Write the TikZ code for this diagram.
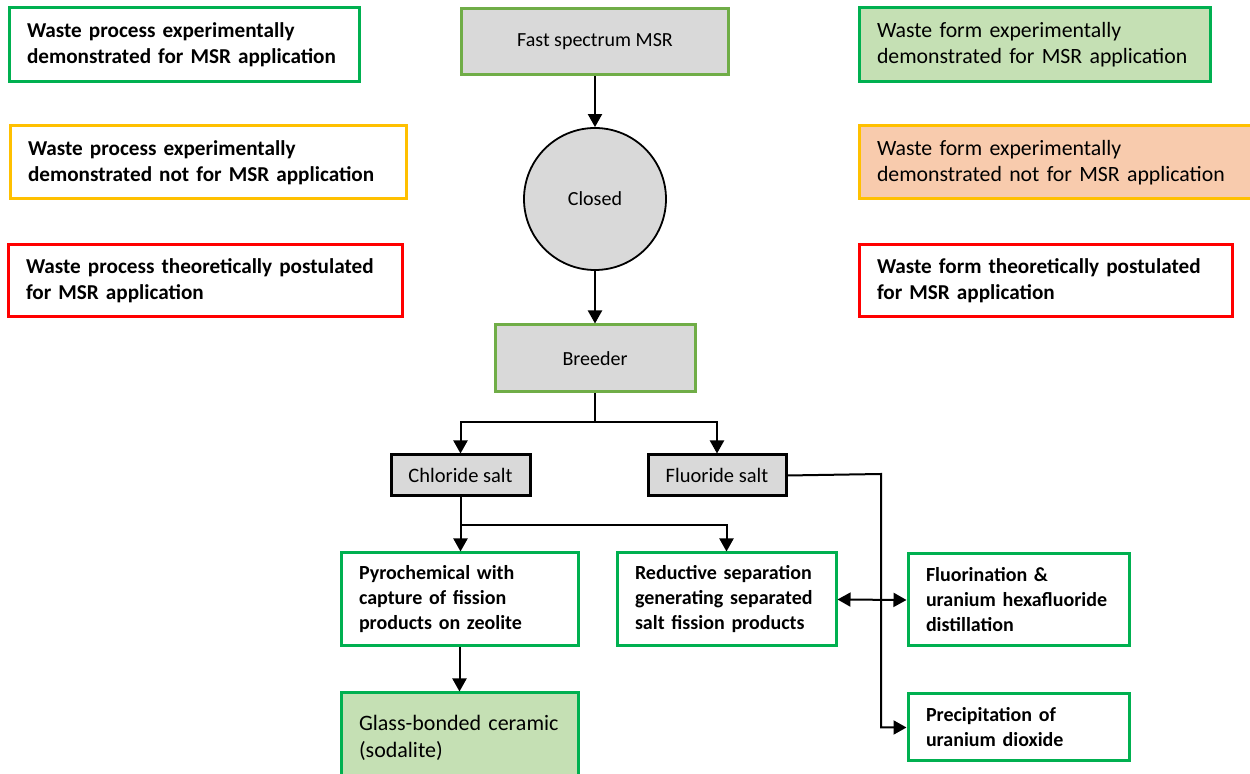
\documentclass[tikz,border=0pt]{standalone}
\usepackage{fontspec}
\setmainfont{Carlito}
\usetikzlibrary{arrows.meta}
\definecolor{mgreen}{HTML}{00B050}
\definecolor{lgreen}{HTML}{70AD47}
\definecolor{lgray}{HTML}{D9D9D9}
\definecolor{myellow}{HTML}{FFC000}
\definecolor{mred}{HTML}{FF0000}
\definecolor{gfill}{HTML}{C5E0B4}
\definecolor{ofill}{HTML}{F8CBAD}
\tikzset{
  lgbox/.style={draw, line width=1.5pt, align=left, inner xsep=9pt, inner ysep=0pt, font=\bfseries\fontsize{10.6}{13}\selectfont},
  lgnorm/.style={lgbox, font=\fontsize{10.9}{13}\selectfont},
  graybox/.style={draw=lgreen, fill=lgray, line width=1.5pt, inner sep=0pt, font=\fontsize{10}{12}\selectfont},
  saltbox/.style={draw=black, fill=lgray, line width=1.5pt, inner sep=0pt, font=\fontsize{10.25}{12}\selectfont},
  procbox/.style={draw=mgreen, line width=1.5pt, align=left, inner xsep=9pt, inner ysep=0pt, font=\bfseries\fontsize{10}{12.5}\selectfont},
  conn/.style={line width=1pt, -{Triangle[length=6.5pt,width=7pt]}},
  conn2/.style={line width=1pt, {Triangle[length=6.5pt,width=7pt]}-{Triangle[length=6.5pt,width=7pt]}},
  plain/.style={line width=1pt},
}
\begin{document}
\begin{tikzpicture}[x=0.5pt,y=-0.5pt]
\useasboundingbox (0,0) rectangle (1250,774);
\fill[white] (0,0) rectangle (1250,774);
% legends left
\node[lgbox, draw=mgreen, text width=157pt, minimum height=37pt] (l1) at (184,45)
  {\mbox{Waste process experimentally}\\\mbox{demonstrated for MSR application}};
\node[lgbox, draw=myellow, text width=180pt, minimum height=36.5pt] (l2) at (208,162.5)
  {\mbox{Waste process experimentally}\\\mbox{demonstrated not for MSR application}};
\node[lgbox, draw=mred, text width=179pt, minimum height=36pt] (l3) at (205,281)
  {\mbox{Waste process theoretically postulated}\\\mbox{for MSR application}};
% legends right
\node[lgnorm, draw=mgreen, fill=gfill, text width=157.5pt, minimum height=37pt] (r1) at (1034.5,45)
  {\mbox{Waste form experimentally}\\\mbox{demonstrated for MSR application}};
\node[lgnorm, draw=myellow, fill=ofill, text width=178.5pt, minimum height=36.5pt] (r2) at (1055.5,162.5)
  {\mbox{Waste form experimentally}\\\mbox{demonstrated not for MSR application}};
\node[lgbox, draw=mred, text width=168.5pt, minimum height=36pt] (r3) at (1045.5,281)
  {\mbox{Waste form theoretically postulated}\\\mbox{for MSR application}};
% center
\node[graybox, minimum width=133.5pt, minimum height=33pt] (fast) at (595,42) {Fast spectrum MSR};
\node[circle, draw=black, fill=lgray, line width=0.9pt, minimum size=71pt, inner sep=0pt, font=\fontsize{10}{12}\selectfont] (closed) at (595,199) {Closed};
\node[graybox, minimum width=100pt, minimum height=33.5pt] (breeder) at (595,358.5) {Breeder};
\node[saltbox, minimum width=69.5pt, minimum height=20.5pt] (chloride) at (460.5,475.5) {Chloride salt};
\node[saltbox, minimum width=69pt, minimum height=20.5pt] (fluoride) at (717,475.5) {Fluoride salt};
\node[procbox, text width=100.5pt, minimum height=46.5pt] (pyro) at (459.5,599.5)
  {\mbox{Pyrochemical with}\\\mbox{capture of fission}\\\mbox{products on zeolite}};
\node[procbox, text width=91.5pt, minimum height=46.5pt] (reductive) at (726.5,599.5)
  {\mbox{Reductive separation}\\\mbox{generating separated}\\\mbox{salt fission products}};
\node[procbox, text width=92.5pt, minimum height=46pt] (fluorination) at (1018.5,600)
  {\mbox{Fluorination \&}\\\mbox{uranium hexafluoride}\\\mbox{distillation}};
\node[procbox, text width=92.5pt, minimum height=33.5pt] (precip) at (1018.5,727.5)
  {\mbox{Precipitation of}\\\mbox{uranium dioxide}};
\node[procbox, fill=gfill, font=\fontsize{11}{13.5}\selectfont, text width=100.5pt, minimum height=44.5pt] (glass) at (459.5,737.5)
  {\mbox{Glass-bonded ceramic}\\\mbox{(sodalite)}};
% connectors
\coordinate (bsplit) at (595,422);
\coordinate (csplit) at (460.5,525);
\coordinate (fbend) at (881,474);
\draw[conn] (fast.south) -- (closed.north);
\draw[conn] (closed.south) -- (breeder.north);
\draw[plain] (breeder.south) -- (bsplit);
\draw[conn] (bsplit) -| (chloride.north);
\draw[conn] (bsplit) -| (fluoride.north);
\draw[conn] (chloride.south) -- (chloride.south |- pyro.north);
\draw[conn] (csplit) -| (reductive.north);
\draw[conn] (fluoride.east) -- (fbend) |- (precip.west);
\draw[conn2] (reductive.east) -- (fluorination.west);
\draw[conn] (pyro.south) -- (pyro.south |- glass.north);
\end{tikzpicture}
\end{document}
